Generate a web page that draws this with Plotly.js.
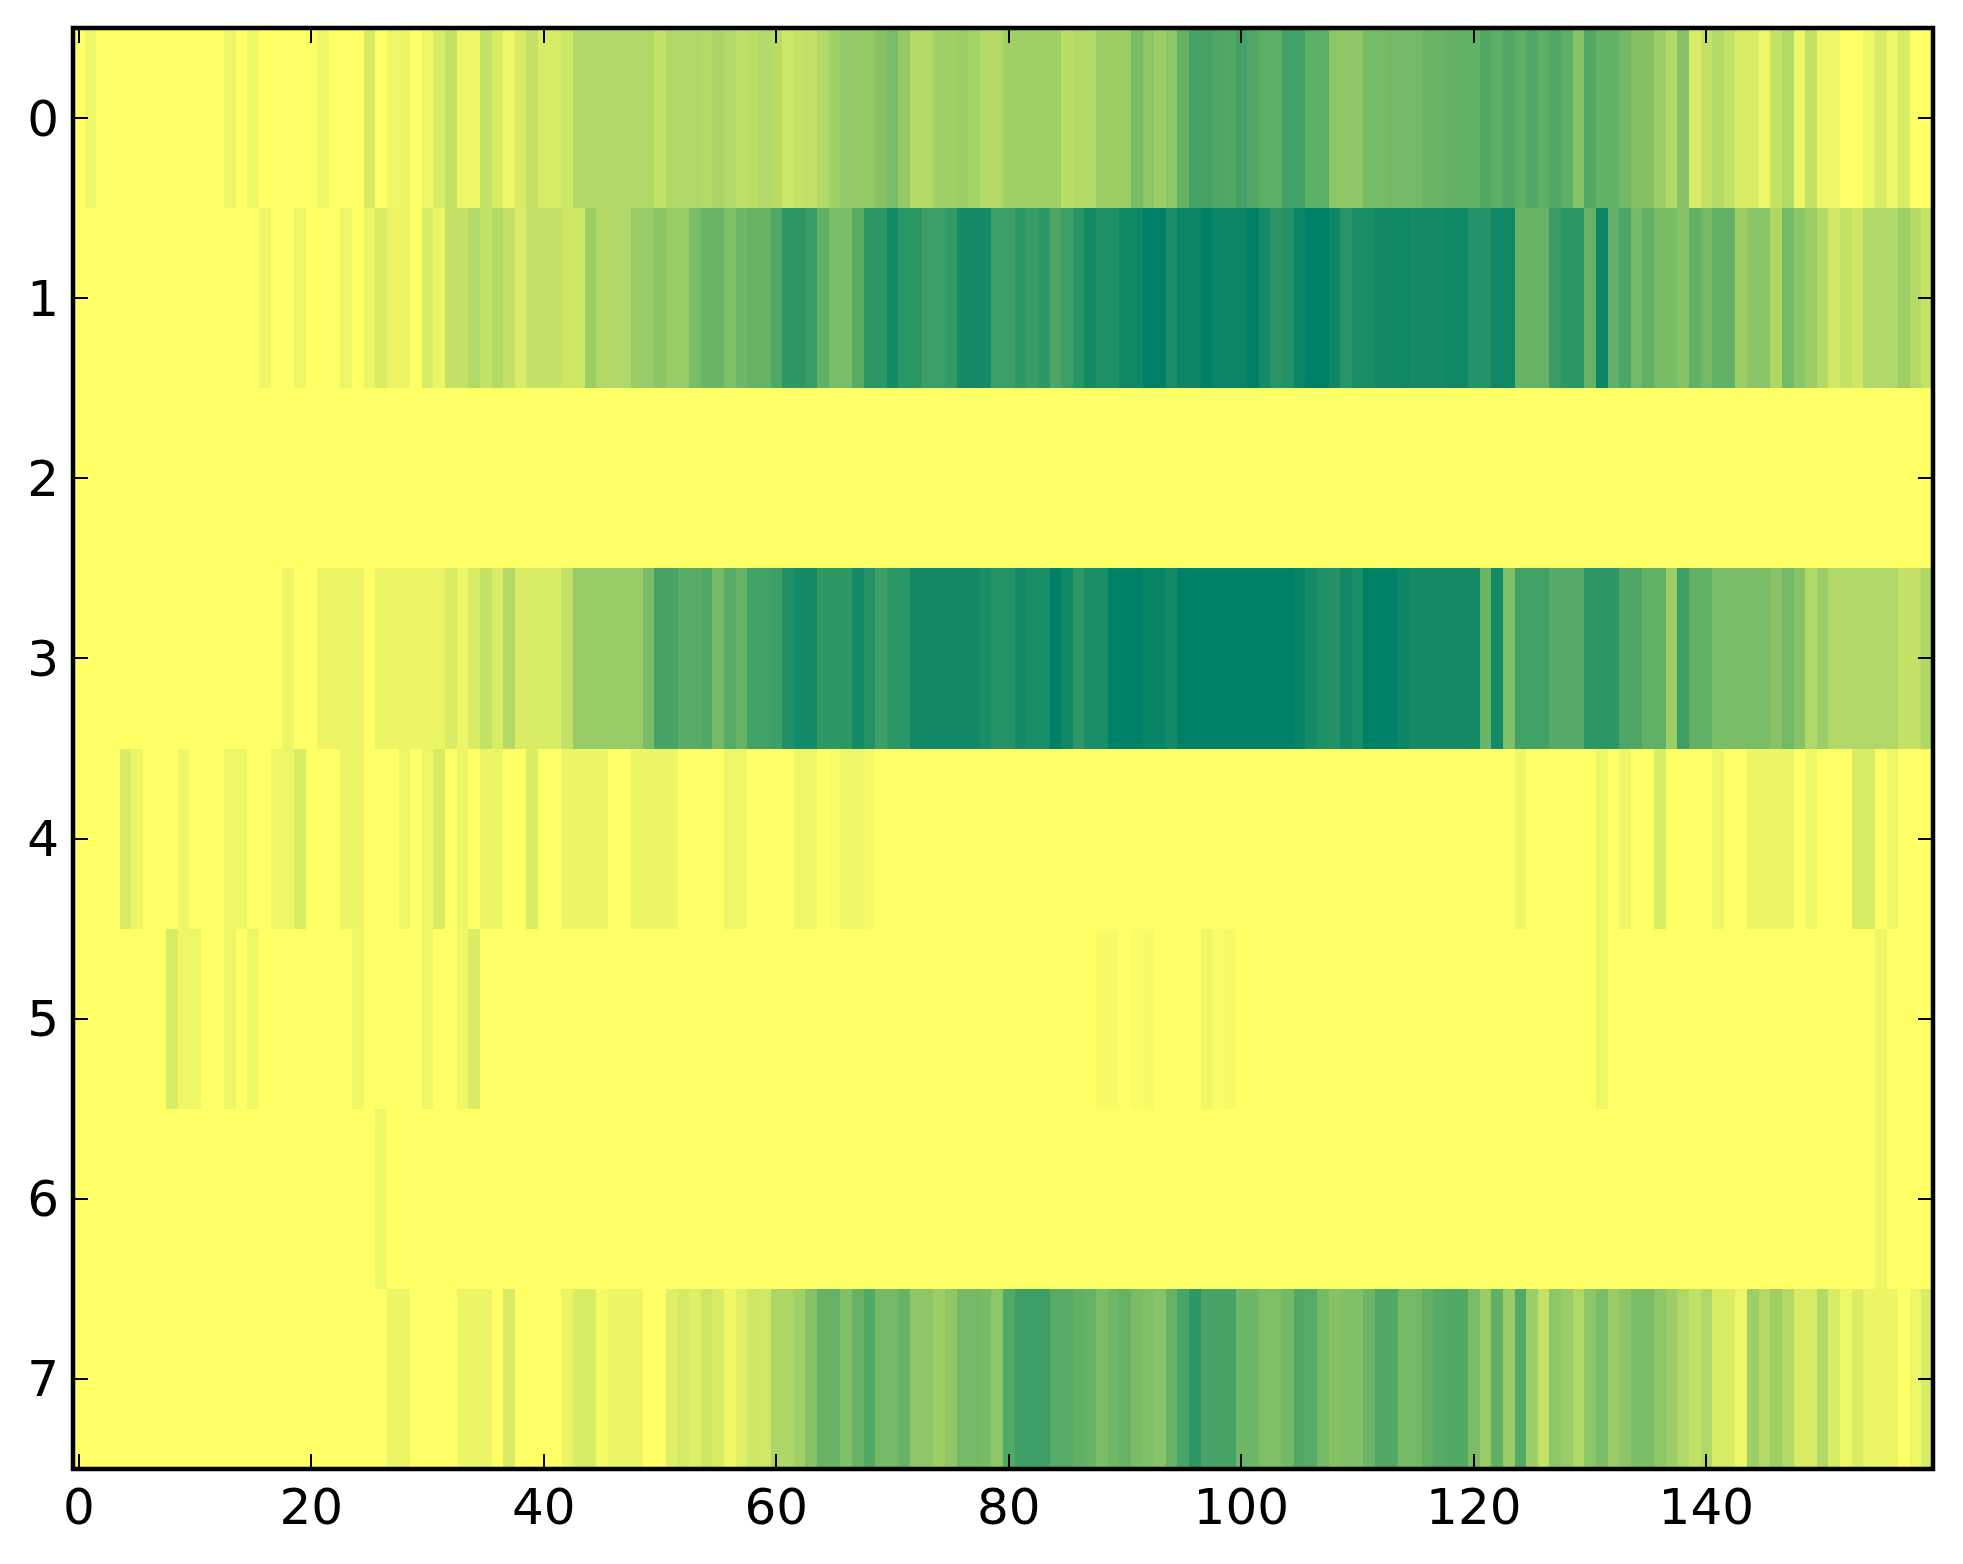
<!DOCTYPE html>
<html>
<head>
<meta charset="utf-8">
<script src="https://cdn.plot.ly/plotly-3.0.1.min.js"></script>
<style>html,body{margin:0;padding:0;background:#fff}</style>
</head>
<body>
<div id="chart" style="width:1963px;height:1564px"></div>
<script>
var columns = [];
for (var c = 0; c < 160; c++) columns.push(c);
var rowLabels = [0, 1, 2, 3, 4, 5, 6, 7];
var row0 = [
 0,7,0,0,0,0,0,0,0,0,0,0,0,7,0,7,0,0,0,0,
 0,7,0,0,0,15,0,7,8,0,7,15,23,7,7,24,15,7,15,24,
 15,15,20,31,31,31,31,31,31,31,23,31,31,31,30,33,30,25,27,30,
 28,20,22,24,30,37,42,42,42,47,52,42,30,30,37,37,39,35,30,30,
 37,37,37,37,37,27,30,30,38,38,38,52,45,38,45,60,73,73,70,68,
 73,68,63,63,75,75,63,63,45,45,45,53,53,55,55,55,59,59,61,61,
 61,68,63,68,63,68,63,68,63,47,68,61,61,55,48,48,38,30,47,15,
 23,30,23,15,15,7,23,30,7,23,7,7,0,0,7,15,7,15,0,0];
var row1 = [
 0,0,0,0,0,0,0,0,0,0,0,0,0,0,0,0,7,0,0,7,
 0,0,0,7,0,7,15,8,8,0,15,8,23,23,30,23,30,23,15,23,
 23,23,20,20,38,31,31,31,40,40,46,40,40,52,58,58,50,57,60,60,
 68,82,82,78,62,52,52,65,83,83,92,83,83,76,76,80,92,92,92,76,
 76,82,78,82,70,76,84,92,88,88,94,94,100,100,90,95,95,100,96,96,
 96,100,92,84,86,96,100,100,94,84,90,90,93,93,94,92,92,92,94,94,
 86,86,94,94,60,60,60,78,83,83,60,95,62,70,55,62,53,53,47,62,
 55,62,62,38,46,46,31,55,46,38,30,18,23,18,31,31,31,38,30,23];
var row2 = [
 0,0,0,0,0,0,0,0,0,0,0,0,0,0,0,0,0,0,0,0,
 0,0,0,0,0,0,0,0,0,0,0,0,0,0,0,0,0,0,0,0,
 0,0,0,0,0,0,0,0,0,0,0,0,0,0,0,0,0,0,0,0,
 0,0,0,0,0,0,0,0,0,0,0,0,0,0,0,0,0,0,0,0,
 0,0,0,0,0,0,0,0,0,0,0,0,0,0,0,0,0,0,0,0,
 0,0,0,0,0,0,0,0,0,0,0,0,0,0,0,0,0,0,0,0,
 0,0,0,0,0,0,0,0,0,0,0,0,0,0,0,0,0,0,0,0,
 0,0,0,0,0,0,0,0,0,0,0,0,0,0,0,0,0,0,0,0];
var row3 = [
 0,0,0,0,0,0,0,0,0,0,0,0,0,0,0,0,0,0,7,0,
 0,8,8,8,8,0,8,8,8,8,8,8,15,7,15,23,15,30,15,15,
 15,15,24,40,40,40,40,40,40,52,72,72,65,65,68,55,66,60,74,74,
 76,88,92,92,82,82,82,92,86,76,83,83,93,93,93,93,93,93,90,85,
 85,92,90,90,100,94,82,90,90,100,100,100,97,97,92,100,100,100,100,100,
 100,100,100,100,100,98,92,88,86,93,90,100,100,100,95,92,92,92,92,92,
 92,58,92,50,75,75,75,67,67,67,83,83,83,70,70,62,62,39,76,62,
 62,52,52,52,52,52,47,55,47,31,39,31,31,31,31,31,31,24,24,31];
var row4 = [
 0,0,0,0,15,7,0,0,0,7,0,0,0,7,7,0,0,7,7,15,
 0,0,0,8,8,0,0,0,7,0,7,15,0,7,0,8,8,0,0,15,
 0,0,8,8,8,8,0,0,8,8,8,8,0,0,0,0,7,7,0,0,
 0,0,7,7,0,2,7,7,4,0,0,0,0,0,0,0,0,0,0,0,
 0,0,0,0,0,0,0,0,0,0,0,0,0,0,0,0,0,0,0,0,
 0,0,0,0,0,0,0,0,0,0,0,0,0,0,0,0,0,0,0,0,
 0,0,0,0,7,0,0,0,0,0,0,7,0,7,0,0,15,0,0,0,
 0,7,0,0,8,8,8,8,0,7,0,0,0,15,15,0,7,0,0,0];
var row5 = [
 0,0,0,0,0,0,0,0,15,7,7,0,0,7,0,7,0,0,0,0,
 0,0,0,0,6,0,0,0,0,0,7,0,0,6,14,0,0,0,0,0,
 0,0,0,0,0,0,0,0,0,0,0,0,0,0,0,0,0,0,0,0,
 0,0,0,0,0,0,0,0,0,0,0,0,0,0,0,0,0,0,0,0,
 0,0,0,0,0,0,0,0,3,3,0,2,3,0,0,0,0,6,2,4,
 0,0,0,0,0,0,0,0,0,0,0,0,0,0,0,0,0,0,0,0,
 0,0,0,0,0,0,0,0,0,0,0,7,0,0,0,0,0,0,0,0,
 0,0,0,0,0,0,0,0,0,0,0,0,0,0,0,7,0,0,0,0];
var row6 = [
 0,0,0,0,0,0,0,0,0,0,0,0,0,0,0,0,0,0,0,0,
 0,0,0,0,0,0,7,0,0,0,0,0,0,0,0,0,0,0,0,0,
 0,0,0,0,0,0,0,0,0,0,0,0,0,0,0,0,0,0,0,0,
 0,0,0,0,0,0,0,0,0,0,0,0,0,0,0,0,0,0,0,0,
 0,0,0,0,0,0,0,0,0,0,0,0,0,0,0,0,0,0,0,0,
 0,0,0,0,0,0,0,0,0,0,0,0,0,0,0,0,0,0,0,0,
 0,0,0,0,0,0,0,0,0,0,0,0,0,0,0,0,0,0,0,0,
 0,0,0,0,0,0,0,0,0,0,0,0,0,0,0,7,0,0,0,0];
var row7 = [
 0,0,0,0,0,0,0,0,0,0,0,0,0,0,0,0,0,0,0,0,
 0,0,0,0,0,0,0,8,8,0,0,0,0,8,8,8,0,15,0,0,
 0,0,8,15,15,4,8,8,8,0,0,12,17,12,20,15,6,12,20,18,
 32,32,37,47,60,60,50,60,68,55,55,60,45,45,38,44,55,55,53,45,
 68,76,76,76,66,66,62,60,52,57,60,52,50,47,60,72,82,72,72,72,
 57,57,51,51,55,68,66,55,47,50,50,58,68,68,55,55,62,66,68,68,
 52,40,62,40,68,38,23,45,40,31,45,52,40,45,52,52,45,39,31,24,
 31,15,15,7,38,30,38,30,15,15,30,15,7,15,8,8,8,0,7,15];

var trace = {
  type: 'heatmap',
  x: columns,
  y: rowLabels,
  z: [row0, row1, row2, row3, row4, row5, row6, row7],
  zmin: 0,
  zmax: 100,
  zsmooth: false,
  showscale: false,
  colorscale: [[0, 'rgb(255,255,102)'], [1, 'rgb(0,128,102)']]
};
var axisCommon = {
  showgrid: false,
  zeroline: false,
  showline: false,
  mirror: 'ticks',
  ticks: 'inside',
  ticklen: 15,
  tickwidth: 2,
  tickcolor: '#000',
  tickfont: {family: '"DejaVu Sans", sans-serif', size: 50, color: '#000'}
};
var layout = {
  width: 1963,
  height: 1564,
  paper_bgcolor: '#fff',
  plot_bgcolor: '#fff',
  margin: {l: 73, r: 30, t: 28, b: 95, pad: 0},
  xaxis: Object.assign({}, axisCommon, {range: [-0.5, 159.5], tick0: 0, dtick: 20, ticklabelstandoff: 4}),
  yaxis: Object.assign({}, axisCommon, {range: [7.5, -0.5], tick0: 0, dtick: 1, ticklabelstandoff: 13}),
  shapes: [{type: 'rect', xref: 'paper', yref: 'paper', x0: 0, x1: 1, y0: 0, y1: 1, layer: 'above',
            line: {color: '#000', width: 4.5}, fillcolor: 'rgba(0,0,0,0)'}]
};
Plotly.newPlot('chart', [trace], layout, {displayModeBar: false, staticPlot: true});
</script>
</body>
</html>
